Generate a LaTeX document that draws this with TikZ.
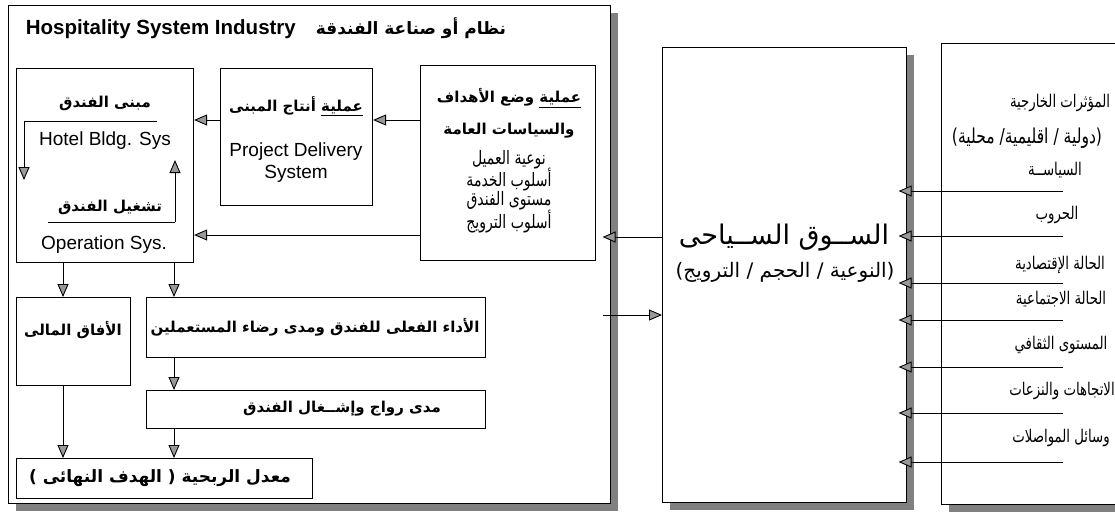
\documentclass[tikz,border=0pt]{standalone}
\usepackage{fontspec}
\setmainfont{Liberation Sans}
\newfontfamily\ar[Script=Arabic]{DejaVu Sans}
\newfontfamily\arn[Script=Arabic, FakeStretch=0.76]{DejaVu Sans}
\TeXXeTstate=1
\usetikzlibrary{arrows.meta,shadows}
\newcommand{\AR}[1]{{\beginR #1\endR}}
\newcommand{\ULw}[1]{\underline{\hbox{\beginR #1\endR}}}

\begin{document}
\begin{tikzpicture}[x=1pt,y=-1pt,
  frm/.style={draw, line width=0.6pt, fill=white, inner sep=0pt,
    drop shadow={shadow xshift=8pt, shadow yshift=-8pt, fill=black!50, opacity=1}},
  box/.style={draw, line width=1.1pt, inner sep=0pt, anchor=north west},
  arr/.style={line width=0.9pt, -{Triangle[length=13pt,width=11pt,fill=black!40]}},
  ln/.style={line width=0.9pt},
  en/.style={font=\fontsize{19}{21}\selectfont, inner sep=0pt},
  arB/.style={font=\ar\bfseries\fontsize{15}{17}\selectfont, inner sep=0pt},
  arN/.style={font=\arn\fontsize{18.5}{20}\selectfont, inner sep=0pt},
  arR/.style={font=\arn\fontsize{17.5}{20}\selectfont, inner sep=0pt},
  ]
\useasboundingbox (0,0) rectangle (1115,512);

% outer frame of the hospitality system
\node[frm, anchor=north west, minimum width=602pt, minimum height=498pt] (frame) at (8,5) {};
\node[inner sep=0pt] (title) at (266,28)
  {{\bfseries\fontsize{20.5}{22}\selectfont Hospitality System Industry}\hspace{20pt}%
   {\ar\bfseries\fontsize{17}{19}\selectfont\beginR نظام أو صناعة الفندقة\endR}};

% boxes inside the frame
\node[box, minimum width=177pt, minimum height=194pt] (A) at (16,68) {};
\node[box, minimum width=152pt, minimum height=137pt] (B) at (220,68) {};
\node[box, minimum width=175pt, minimum height=195pt] (C) at (420,65) {};
\node[box, minimum width=114pt, minimum height=88pt] (D) at (16,297) {};
\node[box, minimum width=339pt, minimum height=60pt] (E) at (146,297) {};
\node[box, minimum width=339pt, minimum height=38pt] (F) at (146,390) {};
\node[box, minimum width=296pt, minimum height=40pt] (G) at (16,458) {};

% market box and external factors
\node[frm, anchor=north west, minimum width=244pt, minimum height=455pt] (M) at (662,47) {};
\node[frm, anchor=north west, minimum width=200pt, minimum height=461pt] (R) at (941,43) {};

% texts of box A
\node[arB] (bldgAr) at (105,103) {\AR{مبنى الفندق}};
\node[en] (bldgEn) at (105,141) {Hotel Bldg. Sys};
\node[arB] (operAr) at (110,207) {\AR{تشغيل الفندق}};
\node[en] (operEn) at (104,245) {Operation Sys.};
\coordinate (bl1) at (157,121);
\coordinate (bl2) at (24,121);
\coordinate (bl3) at (24,180);
\coordinate (op1) at (48,222);
\coordinate (op2) at (175,222);
\coordinate (op3) at (175,160);
\draw[ln] (bl1) -- (bl2);
\draw[arr] (bl2) -- (bl3);
\draw[ln] (op1) -- (op2);
\draw[arr] (op2) -- (op3);

% texts of box B
\node[arB] (pdAr) at (296,106) {\AR{\ULw{عملية} أنتاج المبنى}};
\node[en] (pdEn) at (296,152) {Project Delivery};
\node[en] (pdEn2) at (296,174) {System};

% texts of box C
\node[arB] (c1) at (509,98) {\AR{\ULw{عملية} وضع الأهداف}};
\node[arB] (c2) at (509,131) {\AR{والسياسات العامة}};
\node[arN] (c3) at (509,160) {\AR{نوعية العميل}};
\node[arN] (c4) at (509,180) {\AR{أسلوب الخدمة}};
\node[arN] (c5) at (509,201) {\AR{مستوى الفندق}};
\node[arN] (c6) at (509,222) {\AR{أسلوب الترويج}};

% lower boxes
\node[arB] (dT) at (73,330) {\AR{الأفاق المالى}};
\node[arB] (eT) at (315,327) {\AR{الأداء الفعلى للفندق ومدى رضاء المستعملين}};
\node[arB] (fT) at (342,409) {\AR{مدى رواج وإشــغال الفندق}};
\node[arB, font=\ar\bfseries\fontsize{17}{19}\selectfont] (gT) at (160,478) {\AR{معدل الربحية ( الهدف النهائى )}};

% flows inside the frame
\draw[arr] (C.west |- 0,120) -- (B.east |- 0,120);
\draw[arr] (B.west |- 0,120) -- (A.east |- 0,120);
\draw[arr] (C.west |- 0,235) -- (A.east |- 0,235);
\draw[arr] (A.south -| 63,0) -- (D.north -| 63,0);
\draw[arr] (A.south -| 174,0) -- (E.north -| 174,0);
\draw[arr] (D.south -| 63,0) -- (G.north -| 63,0);
\draw[arr] (E.south -| 174,0) -- (F.north -| 174,0);
\draw[arr] (F.south -| 174,0) -- (G.north -| 174,0);

% market texts
\node[inner sep=0pt, font=\ar\fontsize{27}{30}\selectfont] (mT) at (784,238) {\AR{الســوق الســياحى}};
\node[inner sep=0pt, font=\ar\fontsize{20}{22}\selectfont] (mS) at (785,272) {\AR{(النوعية / الحجم / الترويج)}};

% market and frame exchange
\draw[arr, shorten >=-8pt] (M.west |- 0,237) -- (frame.east |- 0,237);
\draw[arr, shorten <=-8pt] (frame.east |- 0,315) -- (M.west |- 0,315);

% external factors
\node[arR] (r0) at (1060,103) {\AR{المؤثرات الخارجية}};
\node[arR, font=\arn\fontsize{20.5}{22}\selectfont] (r0b) at (1027,138) {\AR{(دولية / اقليمية/ محلية)}};
\node[arR] (r1) at (1055,170) {\AR{السياســة}};
\node[arR] (r2) at (1057,215) {\AR{الحروب}};
\node[arR] (r3) at (1060,265) {\AR{الحالة الإقتصادية}};
\node[arR] (r4) at (1061,299) {\AR{الحالة الاجتماعية}};
\node[arR] (r5) at (1061,345) {\AR{المستوى الثقافي}};
\node[arR] (r6) at (1062,391) {\AR{الاتجاهات والنزعات}};
\node[arR] (r7) at (1061,438) {\AR{وسائل المواصلات}};

\foreach \n/\y in {1/191,2/236,3/283,4/320,5/367,6/413,7/462}{
  \coordinate (s\n) at (1063,\y);
  \draw[arr, shorten >=-8pt] (s\n) -- (M.east |- s\n);
}
\end{tikzpicture}
\end{document}
